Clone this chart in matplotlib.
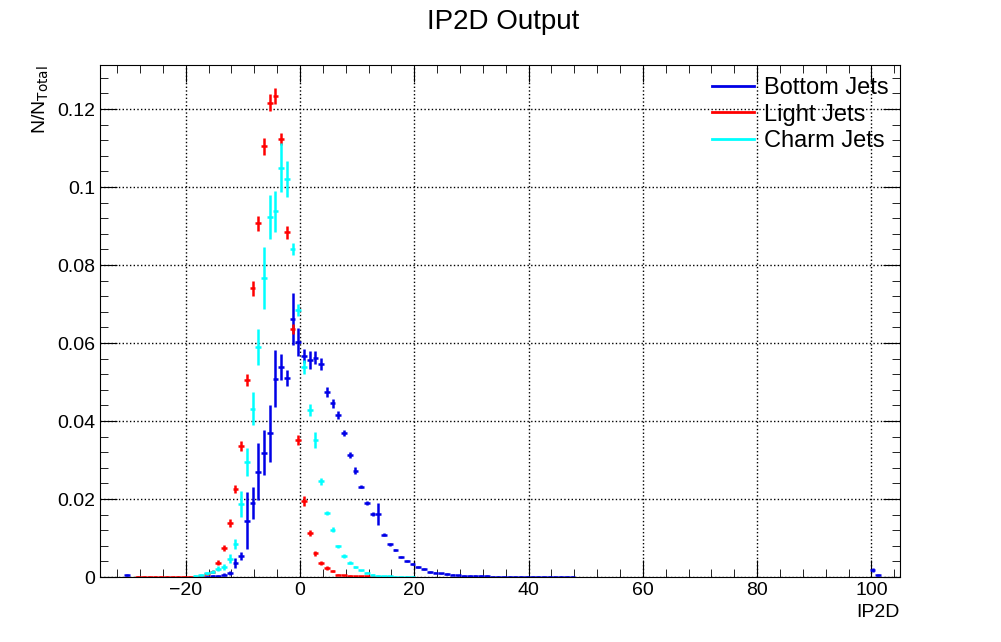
import numpy as np
import matplotlib
matplotlib.use('Agg')
import matplotlib.pyplot as plt
from matplotlib.ticker import MultipleLocator

plt.rcParams['font.family'] = ['Liberation Sans', 'DejaVu Sans']

# bin centers, width 1, first bin at -30.3
first_center = -30.3

bottom_vals = [0.0005] + [0]*13 + [0.0001, 0.0002, 0.0003, 0.0006,
    0.001, 0.0036, 0.0054, 0.0144, 0.019, 0.027, 0.0319, 0.0368, 0.0508, 0.0538,
    0.0511, 0.0662, 0.0603, 0.0567, 0.0556, 0.0562, 0.0546,
    0.0475, 0.0445, 0.0415, 0.037, 0.0313, 0.0273, 0.0232, 0.019, 0.0162, 0.0162,
    0.0108, 0.0084, 0.0069, 0.0051, 0.0041, 0.0033, 0.0026, 0.0021, 0.0013, 0.0011,
    0.0009, 0.0007, 0.0006, 0.0004, 0.0003, 0.0003, 0.0002, 0.0002, 0.0002, 0.0001,
    0.0001, 0.0001, 0.0001, 0.0001, 0.0001, 0.0001, 0.0001, 0.0001, 0.0001, 0.0001,
    0.0001, 0.0001, 0.0001, 0.0001]
bottom_errs = [0.0003] + [0]*13 + [0.0001, 0.0002, 0.0002, 0.0004,
    0.0005, 0.0013, 0.001, 0.0073, 0.0042, 0.0073, 0.0058, 0.0074, 0.0073, 0.0034,
    0.0021, 0.0067, 0.0035, 0.0018, 0.0023, 0.0017, 0.0016,
    0.0013, 0.0011, 0.0011, 0.0008, 0.0007, 0.0008, 0.0005, 0.0005, 0.0005, 0.0029,
    0.0004, 0.0004, 0.0003, 0.0003, 0.0003, 0.0002, 0.0002, 0.0002, 0.0002, 0.0002]
bottom_over_x = [100.2, 101.2]
bottom_over_vals = [0.0018, 0.0005]
bottom_over_errs = [0.0004, 0.0002]

light_vals = [0]*2 + [0.0001]*11 + [0.0003, 0.0007, 0.0014, 0.0037,
    0.0074, 0.0139, 0.0226, 0.0337, 0.0505, 0.074, 0.0907, 0.1105, 0.1216, 0.1234,
    0.1123, 0.0884, 0.0636, 0.0351, 0.0195, 0.0112, 0.0061, 0.0035, 0.0023, 0.0015,
    0.0006, 0.0004, 0.0003, 0.0002, 0.0002, 0.0002, 0.0001, 0.0001, 0.0001, 0.0001]
light_errs = [0]*2 + [0.0001]*11 + [0.0002, 0.0003, 0.0004, 0.0006,
    0.0008, 0.001, 0.0011, 0.0013, 0.0015, 0.0019, 0.0019, 0.0022, 0.0022, 0.0021,
    0.0015, 0.0017, 0.0012, 0.0012, 0.0012, 0.0008, 0.0006, 0.0005, 0.0004, 0.0003,
    0.0002, 0.0002, 0.0002, 0.0001, 0.0001, 0.0001, 0.0001, 0.0001, 0.0001, 0.0001]

charm_vals = [0]*12 + [0.0003, 0.0005, 0.0010, 0.0014, 0.0021, 0.0026,
    0.0047, 0.0085, 0.0188, 0.0296, 0.0432, 0.059, 0.0767, 0.0924, 0.0938, 0.105,
    0.1021, 0.0841, 0.0685, 0.0538, 0.0428, 0.0351, 0.0246, 0.0164, 0.0121, 0.0079,
    0.0054, 0.0037, 0.0025, 0.0017, 0.0011, 0.0006, 0.0003, 0.0002, 0.0002, 0.0001,
    0.0001, 0.0001, 0.0001]
charm_errs = [0]*12 + [0.0002, 0.0003, 0.0004, 0.0005, 0.0006, 0.0007,
    0.0012, 0.0013, 0.0033, 0.0036, 0.0042, 0.0046, 0.0079, 0.0056, 0.0053, 0.0063,
    0.0046, 0.0015, 0.0016, 0.0018, 0.0015, 0.002, 0.0009, 0.0005, 0.0006, 0.0004,
    0.0004, 0.0003, 0.0003, 0.0002, 0.0002, 0.0002, 0.0001, 0.0001, 0.0001, 0.0001,
    0.0001, 0.0001, 0.0001]


def draw(ax, vals, errs, color):
    vals = np.array(vals, dtype=float)
    errs = np.array(list(errs) + [0.0002] * (len(vals) - len(errs)), dtype=float)
    x = first_center + np.arange(len(vals))
    m = vals > 0
    ax.errorbar(x[m], vals[m], xerr=0.5, yerr=errs[m], fmt='none', ecolor=color,
                elinewidth=1.8, capsize=0)


fig = plt.figure(figsize=(10.01, 6.42), dpi=100)
ax = fig.add_axes([100/1001, 1 - 577/642, 800/1001, 512/642])

draw(ax, bottom_vals, bottom_errs, '#0000e6')
ax.errorbar(bottom_over_x, bottom_over_vals, xerr=0.5, yerr=bottom_over_errs,
            fmt='none', ecolor='#0000e6', elinewidth=1.8)
draw(ax, light_vals, light_errs, '#ff0000')
draw(ax, charm_vals, charm_errs, '#00ffff')

ax.plot([], [], color='#0000e6', lw=2, label='Bottom Jets')
ax.plot([], [], color='#ff0000', lw=2, label='Light Jets')
ax.plot([], [], color='#00ffff', lw=2, label='Charm Jets')
ax.legend(loc='upper right', frameon=False, fontsize=17, handlelength=1.8,
          handletextpad=0.4, borderaxespad=0.1, labelspacing=0.2,
          bbox_to_anchor=(1.0, 1.0))

ax.set_xlim(-35, 105)
ax.set_ylim(0, 0.1313)
ax.xaxis.set_major_locator(MultipleLocator(20))
ax.xaxis.set_minor_locator(MultipleLocator(4))
ax.yaxis.set_minor_locator(MultipleLocator(0.004))
ax.set_yticks([0, 0.02, 0.04, 0.06, 0.08, 0.1, 0.12])
ax.set_yticklabels(['0', '0.02', '0.04', '0.06', '0.08', '0.1', '0.12'])
ax.tick_params(which='both', direction='in', top=True, right=True, labelsize=14)
ax.tick_params(which='major', length=12)
ax.tick_params(which='minor', length=6)
ax.grid(True, which='major', color='black', linestyle=':', linewidth=1)
ax.set_axisbelow(True)

fig.text(0.503, 0.965, 'IP2D Output', ha='center', va='center', fontsize=20)
ax.set_xlabel('IP2D', fontsize=14, loc='right')
ax.set_ylabel(r'N/N$_{\mathrm{Total}}$', fontsize=14, loc='top')

fig.savefig('out.png', dpi=100)
